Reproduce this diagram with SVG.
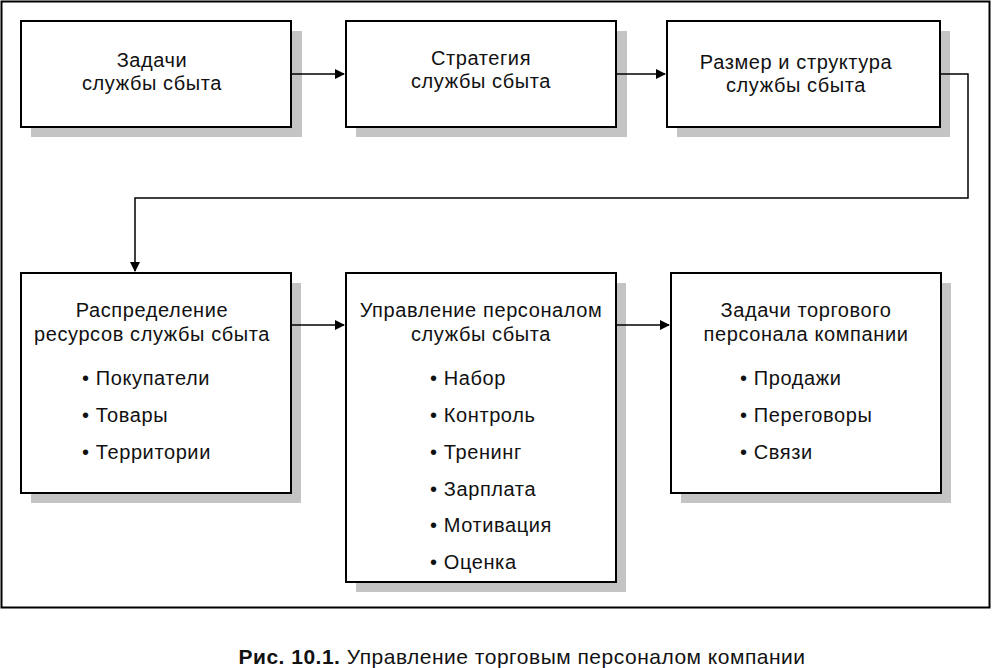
<svg xmlns="http://www.w3.org/2000/svg" width="992" height="668" viewBox="0 0 992 668">
<style>
.box{fill:#fff;stroke:#000;stroke-width:2}
.sh{fill:#c4c4c4}
text{font-family:"Liberation Sans",Arial,sans-serif;font-size:20px;letter-spacing:0.6px;fill:#111}
.c{text-anchor:middle}
.ln{fill:none;stroke:#000;stroke-width:1.5}
</style>
<defs><marker id="a" markerWidth="10" markerHeight="10" refX="9" refY="5" orient="auto" markerUnits="userSpaceOnUse"><path d="M0,0 L10,5 L0,10 Z" fill="#000"/></marker></defs>
<rect width="992" height="668" fill="#fff"/>
<rect x="1.5" y="1.5" width="988" height="606" fill="none" stroke="#000" stroke-width="2"/>
<g id="n1"><rect class="sh" x="31" y="31" width="271" height="106"/><rect class="box" x="21" y="21" width="270" height="106"/>
<text class="c" x="152" y="67">Задачи</text><text class="c" x="152" y="90">службы сбыта</text></g>
<g id="n2"><rect class="sh" x="356" y="31" width="271" height="106"/><rect class="box" x="346" y="21" width="270" height="106"/>
<text class="c" x="481" y="65">Стратегия</text><text class="c" x="481" y="88">службы сбыта</text></g>
<g id="n3"><rect class="sh" x="677" y="31" width="273" height="106"/><rect class="box" x="667" y="21" width="273" height="106"/>
<text class="c" x="796" y="69">Размер и структура</text><text class="c" x="796" y="92">службы сбыта</text></g>
<g id="n4"><rect class="sh" x="31" y="283" width="270" height="220"/><rect class="box" x="21" y="273" width="270" height="220"/>
<text class="c" x="152" y="317">Распределение</text><text class="c" x="152" y="341">ресурсов службы сбыта</text>
<text x="82" y="385">• Покупатели</text><text x="82" y="422">• Товары</text><text x="82" y="459">• Территории</text></g>
<g id="n5"><rect class="sh" x="356" y="283" width="270" height="309"/><rect class="box" x="346" y="273" width="270" height="309"/>
<text class="c" x="481" y="317">Управление персоналом</text><text class="c" x="481" y="341">службы сбыта</text>
<text x="430" y="385">• Набор</text><text x="430" y="422">• Контроль</text><text x="430" y="459">• Тренинг</text><text x="430" y="496">• Зарплата</text><text x="430" y="532">• Мотивация</text><text x="430" y="569">• Оценка</text></g>
<g id="n6"><rect class="sh" x="681" y="283" width="270" height="220"/><rect class="box" x="671" y="273" width="270" height="220"/>
<text class="c" x="806" y="317">Задачи торгового</text><text class="c" x="806" y="341">персонала компании</text>
<text x="740" y="385">• Продажи</text><text x="740" y="422">• Переговоры</text><text x="740" y="459">• Связи</text></g>
<g id="connectors">
<path class="ln" d="M291,74 H344" marker-end="url(#a)"/>
<path class="ln" d="M616,74 H665" marker-end="url(#a)"/>
<path class="ln" d="M940,74 H968 V198 H135 V271" marker-end="url(#a)"/>
<path class="ln" d="M291,325 H344" marker-end="url(#a)"/>
<path class="ln" d="M616,325 H669" marker-end="url(#a)"/>
</g>
<text class="c" x="522" y="664" style="font-size:21px;letter-spacing:0.5px"><tspan font-weight="bold">Рис. 10.1.</tspan> Управление торговым персоналом компании</text>
</svg>
